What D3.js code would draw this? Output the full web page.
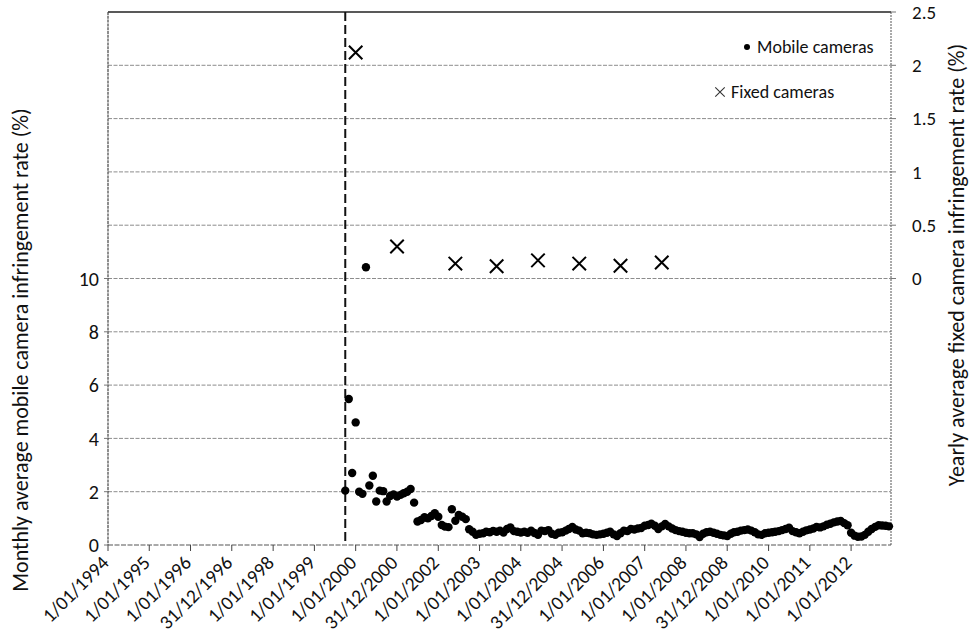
<!DOCTYPE html>
<html>
<head>
<meta charset="utf-8">
<script src="https://cdn.jsdelivr.net/npm/d3@7"></script>
<style>
  html, body { margin: 0; padding: 0; background: #fff; }
  svg { display: block; }
  text { font-family: Carlito, Calibri, Lato, "Open Sans", sans-serif; fill: #111; }
</style>
</head>
<body>
<svg id="chart" width="973" height="637"></svg>
<script>
// Date-axis tick labels (yearly major unit)
const tickLabels = ["1/01/1994","1/01/1995","1/01/1996","31/12/1996","1/01/1998","1/01/1999",
  "1/01/2000","31/12/2000","1/01/2002","1/01/2003","1/01/2004","31/12/2004","1/01/2006",
  "1/01/2007","1/01/2008","31/12/2008","1/01/2010","1/01/2011","1/01/2012"];

// Left axis ticks (mobile, %) and right axis ticks (fixed, %)
const leftTicks = [0, 2, 4, 6, 8, 10];
const leftGrid = [2, 4, 6, 8, 10, 12, 14, 16, 18];
const rightTicks = [0, 0.5, 1, 1.5, 2, 2.5];

// Mobile cameras: monthly average infringement rate, starting October 1999
const mobileStart = "1/10/1999";
const mobileValues = [
  2.04, 5.48, 2.70, 4.60, 2.00, 1.92, 10.42, 2.23, 2.60, 1.63, 2.04, 2.02,
  1.63, 1.84, 1.90, 1.82, 1.88, 1.94, 2.00, 2.10, 1.59, 0.88, 0.94, 1.04,
  1.00, 1.09, 1.19, 1.06, 0.75, 0.69, 0.67, 1.34, 0.91, 1.13, 1.06, 0.97,
  0.59, 0.50, 0.38, 0.42, 0.44, 0.50, 0.48, 0.53, 0.50, 0.54, 0.47, 0.60,
  0.66, 0.52, 0.50, 0.47, 0.50, 0.46, 0.54, 0.45, 0.38, 0.54, 0.52, 0.56,
  0.42, 0.38, 0.46, 0.48, 0.54, 0.60, 0.68, 0.58, 0.54, 0.44, 0.46, 0.44,
  0.40, 0.38, 0.40, 0.42, 0.46, 0.50, 0.40, 0.34, 0.44, 0.54, 0.52, 0.60,
  0.58, 0.62, 0.64, 0.72, 0.75, 0.80, 0.72, 0.60, 0.70, 0.79, 0.70, 0.62,
  0.56, 0.52, 0.50, 0.46, 0.44, 0.44, 0.40, 0.30, 0.42, 0.48, 0.50, 0.46,
  0.42, 0.38, 0.36, 0.34, 0.42, 0.48, 0.50, 0.54, 0.56, 0.58, 0.54, 0.48,
  0.40, 0.38, 0.44, 0.46, 0.48, 0.50, 0.52, 0.56, 0.60, 0.65, 0.52, 0.48,
  0.44, 0.50, 0.55, 0.58, 0.62, 0.68, 0.66, 0.70, 0.76, 0.80, 0.85, 0.88,
  0.90, 0.82, 0.74, 0.46, 0.35, 0.31, 0.32, 0.38, 0.50, 0.60, 0.68, 0.74,
  0.73, 0.72, 0.70
];

// Fixed cameras: yearly average infringement rate
const fixedDates = ["1/01/2000","1/01/2001","1/06/2002","1/06/2003","1/06/2004","1/06/2005","1/06/2006","1/06/2007"];
const fixedValues = [2.12, 0.30, 0.14, 0.115, 0.17, 0.14, 0.12, 0.15];

// Introduction of the program (dashed marker)
const markerDate = "1/10/1999";

const parse = d3.timeParse("%d/%m/%Y");
const svg = d3.select("#chart");

const plotLeft = 108, plotRight = 891, plotTop = 12, plotBottom = 545;

const x = d3.scaleTime()
  .domain([parse("1/01/1994"), parse("19/12/2012")])
  .range([plotLeft, plotRight]);
const yL = d3.scaleLinear().domain([0, 20]).range([plotBottom, plotTop]);
const yR = d3.scaleLinear().domain([-2.5, 2.5]).range([plotBottom, plotTop]);

// Horizontal gridlines
svg.append("g").selectAll("line").data(leftGrid).join("line")
  .attr("x1", plotLeft).attr("x2", plotRight)
  .attr("y1", d => yL(d)).attr("y2", d => yL(d))
  .attr("stroke", "#8c8c8c").attr("stroke-width", 1)
  .attr("stroke-dasharray", "4 1.5");

// Frame: top border, left axis, right axis, baseline
svg.append("line").attr("x1", plotLeft).attr("x2", plotRight).attr("y1", plotTop).attr("y2", plotTop)
  .attr("stroke", "#222").attr("stroke-width", 1.5);
svg.append("line").attr("x1", plotLeft).attr("x2", plotLeft).attr("y1", plotTop).attr("y2", plotBottom)
  .attr("stroke", "#444").attr("stroke-width", 1.2).attr("stroke-dasharray", "3 0.8");
svg.append("line").attr("x1", plotRight).attr("x2", plotRight).attr("y1", plotTop).attr("y2", plotBottom)
  .attr("stroke", "#555").attr("stroke-width", 1).attr("stroke-dasharray", "2 1");
svg.append("line").attr("x1", plotLeft).attr("x2", plotRight).attr("y1", plotBottom).attr("y2", plotBottom)
  .attr("stroke", "#555").attr("stroke-width", 1.2).attr("stroke-dasharray", "5 1.5");

// Left axis ticks and labels
svg.append("g").selectAll("line").data(leftTicks).join("line")
  .attr("x1", plotLeft - 4).attr("x2", plotLeft)
  .attr("y1", d => yL(d)).attr("y2", d => yL(d))
  .attr("stroke", "#777").attr("stroke-width", 1);
svg.append("g").selectAll("text").data(leftTicks).join("text")
  .attr("x", plotLeft - 9).attr("y", d => yL(d)).attr("dy", "0.36em")
  .attr("text-anchor", "end").attr("font-size", 20)
  .text(d => d);

// Right axis ticks and labels
svg.append("g").selectAll("line").data(rightTicks).join("line")
  .attr("x1", plotRight).attr("x2", plotRight + 5)
  .attr("y1", d => yR(d)).attr("y2", d => yR(d))
  .attr("stroke", "#777").attr("stroke-width", 1);
svg.append("g").selectAll("text").data(rightTicks).join("text")
  .attr("x", plotRight + 21).attr("y", d => yR(d)).attr("dy", "0.36em")
  .attr("text-anchor", "start").attr("font-size", 19)
  .text(d => d);

// X axis ticks and rotated date labels
const tickDates = tickLabels.map(parse);
svg.append("g").selectAll("line").data(tickDates).join("line")
  .attr("x1", d => x(d)).attr("x2", d => x(d))
  .attr("y1", plotBottom).attr("y2", plotBottom + 6)
  .attr("stroke", "#444").attr("stroke-width", 1);
svg.append("g").selectAll("text").data(tickLabels).join("text")
  .attr("transform", d => `translate(${x(parse(d)) + 2},${plotBottom + 19}) rotate(-45)`)
  .attr("text-anchor", "end").attr("font-size", 19.5)
  .text(d => d);

// Axis titles
svg.append("text")
  .attr("transform", "translate(28,350) rotate(-90)")
  .attr("text-anchor", "middle").attr("font-size", 22)
  .text("Monthly average mobile camera infringement rate (%)");
svg.append("text")
  .attr("transform", "translate(964,265) rotate(-90)")
  .attr("text-anchor", "middle").attr("font-size", 22)
  .text("Yearly average fixed camera infringement rate (%)");

// Dashed marker line
svg.append("line")
  .attr("x1", x(parse(markerDate))).attr("x2", x(parse(markerDate)))
  .attr("y1", plotTop).attr("y2", plotBottom)
  .attr("stroke", "#111").attr("stroke-width", 2)
  .attr("stroke-dasharray", "9 4");

// Mobile camera dots
const startMonth = parse(mobileStart);
const mobile = mobileValues.map((v, i) => ({ date: d3.timeMonth.offset(startMonth, i), value: v }));
svg.append("g").selectAll("circle").data(mobile).join("circle")
  .attr("cx", d => x(d.date)).attr("cy", d => yL(d.value))
  .attr("r", 4.2).attr("fill", "#000");

// Fixed camera crosses
const cross = d3.symbol().type(d3.symbolX).size(120);
const fixed = fixedDates.map((d, i) => ({ date: parse(d), value: fixedValues[i] }));
svg.append("g").selectAll("path").data(fixed).join("path")
  .attr("transform", d => `translate(${x(d.date)},${yR(d.value)})`)
  .attr("d", cross)
  .attr("fill", "none").attr("stroke", "#000").attr("stroke-width", 2);

// Legend
const legend = svg.append("g");
legend.append("circle").attr("cx", 747).attr("cy", 47).attr("r", 3).attr("fill", "#000");
legend.append("text").attr("x", 757).attr("y", 47).attr("dy", "0.35em")
  .attr("font-size", 18).text("Mobile cameras");
legend.append("path").attr("transform", "translate(720,92)")
  .attr("d", d3.symbol().type(d3.symbolX).size(60))
  .attr("fill", "none").attr("stroke", "#333").attr("stroke-width", 1.1);
legend.append("text").attr("x", 731).attr("y", 92).attr("dy", "0.35em")
  .attr("font-size", 18).text("Fixed cameras");
</script>
</body>
</html>
